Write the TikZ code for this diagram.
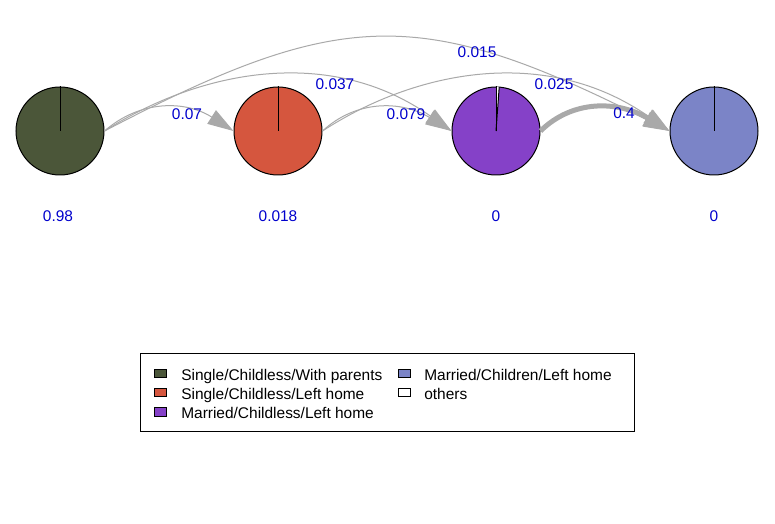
\documentclass[tikz,border=0pt]{standalone}
\usepackage{fontspec}
\setmainfont{Liberation Sans}
\usetikzlibrary{arrows.meta}
\definecolor{cA}{RGB}{75,86,57}
\definecolor{cB}{RGB}{213,86,62}
\definecolor{cC}{RGB}{133,65,200}
\definecolor{cD}{RGB}{123,132,199}
\definecolor{lbl}{RGB}{0,0,205}
\definecolor{edgegray}{RGB}{169,169,169}
\begin{document}
\begin{tikzpicture}[x=0.75pt,y=-0.75pt,
  state/.style={circle,draw=black,line width=0.75pt,minimum size=66pt,inner sep=0pt},
  prob/.style={text=lbl,font=\fontsize{11.6}{13}\selectfont,inner sep=0pt},
  trans/.style={draw=edgegray,line width=0.75pt,-{Triangle[length=19.5pt,width=12pt]}},
  bigtrans/.style={draw=edgegray,line width=3.75pt,-{Triangle[length=19.5pt,width=13pt]}},
  legtext/.style={font=\fontsize{11.6}{13}\selectfont,inner sep=0pt,anchor=base west},
  legbox/.style={draw=black,line width=0.75pt,minimum width=9pt,minimum height=6.6pt,inner sep=0pt}
]
\useasboundingbox (0,0) rectangle (775,524);
\fill[white] (0,0) rectangle (775,524);

% states
\node[state,fill=cA] (s1) at (60,131) {};
\node[state,fill=cB] (s2) at (278,131) {};
\node[state,fill=cC] (s3) at (496,131) {};
\node[state,fill=cD] (s4) at (714,131) {};

% pie boundaries
\draw[line width=0.75pt] (s1.center) -- (s1.north);
\draw[line width=0.75pt] (s2.center) -- (s2.north);
\fill[white] (s3.center) -- (496,87) -- (499.2,87.2) -- cycle;
\draw[line width=0.75pt] (s3.center) -- (s3.north);
\draw[line width=0.75pt] (s3.center) -- (499.2,87.2);
\draw[line width=0.75pt] (s4.center) -- (s4.north);

% transitions
\draw[trans] (s1.east) .. controls (140,100) and (185,100) .. (s2.west);
\draw[trans] (s1.east) .. controls (200,70) and (330,45) .. (s3.west);
\draw[trans] (s1.east) .. controls (340,8) and (420,5) .. (s4.west);
\draw[trans] (s2.east) .. controls (356,100) and (401,100) .. (s3.west);
\draw[trans] (s2.east) .. controls (416,70) and (546,45) .. (s4.west);
\draw[bigtrans] (s3.east) .. controls (572,100) and (617,100) .. (s4.west);

% transition labels
\node[prob] (p12) at (187,114) {0.07};
\node[prob] (p13) at (335,84) {0.037};
\node[prob] (p23) at (406,114) {0.079};
\node[prob] (p14) at (477,52.5) {0.015};
\node[prob] (p24) at (554,84) {0.025};
\node[prob] (p34) at (624,113.5) {0.4};

% state labels
\node[prob] (q1) at (58,216) {0.98};
\node[prob] (q2) at (278,216) {0.018};
\node[prob] (q3) at (496,216) {0};
\node[prob] (q4) at (714,216) {0};

% legend
\node[draw=black,line width=0.75pt,minimum width=370pt,minimum height=58pt,inner sep=0pt] (leg) at (387.5,392.5) {};
\node[legbox,fill=cA] (b1) at (160,373.5) {};
\node[legbox,fill=cB] (b2) at (160,392.5) {};
\node[legbox,fill=cC] (b3) at (160,412) {};
\node[legbox,fill=cD] (b4) at (404,373.5) {};
\node[legbox,fill=white] (b5) at (404,392.5) {};
\node[legtext] (t1) at (181,380.5) {Single/Childless/With parents};
\node[legtext] (t2) at (181,399.5) {Single/Childless/Left home};
\node[legtext] (t3) at (181,418.5) {Married/Childless/Left home};
\node[legtext] (t4) at (424,380.5) {Married/Children/Left home};
\node[legtext] (t5) at (424,399.5) {others};
\end{tikzpicture}
\end{document}
